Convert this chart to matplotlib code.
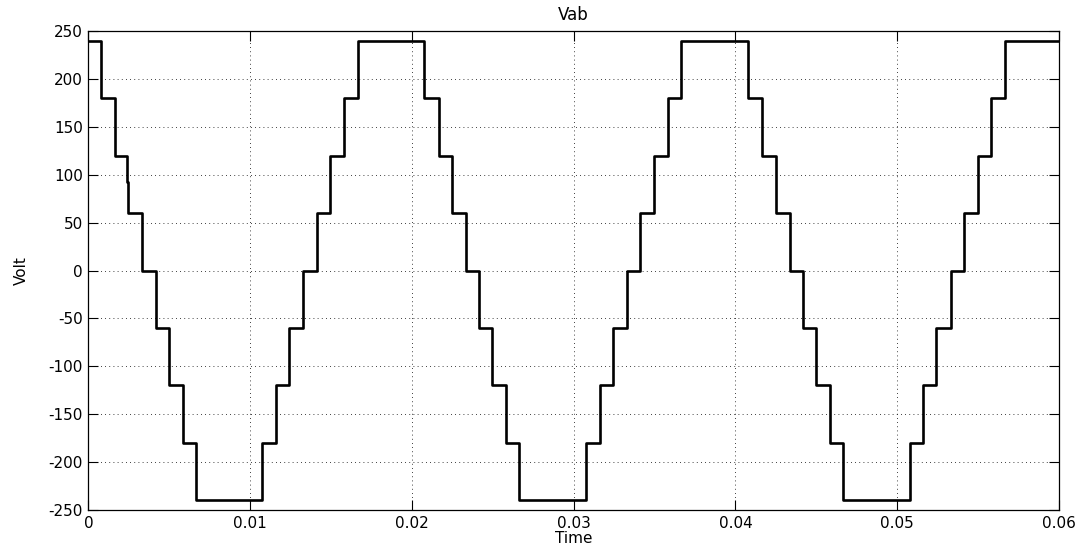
import matplotlib
matplotlib.use("Agg")
import matplotlib.pyplot as plt
import numpy as np

# Transition times (s) and the voltage level held from each time onward
switch_times = [0.0, 0.00078, 0.00165, 0.00238, 0.00247, 0.00334, 0.00417, 0.00499, 0.00584, 0.00664,
                0.01076, 0.01161, 0.01241, 0.01326, 0.01412, 0.01495, 0.01581, 0.01666,
                0.02078, 0.02165, 0.02249, 0.02336, 0.02416, 0.02498, 0.02583, 0.02665,
                0.03078, 0.03160, 0.03243, 0.03330, 0.03412, 0.03498, 0.03583, 0.03666,
                0.04078, 0.04165, 0.04249, 0.04336, 0.04416, 0.04498, 0.04583, 0.04665,
                0.05078, 0.05160, 0.05243, 0.05330, 0.05412, 0.05498, 0.05583, 0.05666,
                0.06]
vab_levels = [240, 180, 120, 92, 60, 0, -60, -120, -180, -240,
              -180, -120, -60, 0, 60, 120, 180, 240,
              180, 120, 60, 0, -60, -120, -180, -240,
              -180, -120, -60, 0, 60, 120, 180, 240,
              180, 120, 60, 0, -60, -120, -180, -240,
              -180, -120, -60, 0, 60, 120, 180, 240,
              240]

x_ticks = [0, 0.01, 0.02, 0.03, 0.04, 0.05, 0.06]
x_tick_labels = ["0", "0.01", "0.02", "0.03", "0.04", "0.05", "0.06"]
y_ticks = [-250, -200, -150, -100, -50, 0, 50, 100, 150, 200, 250]

plt.rcParams['font.family'] = ['DejaVu Sans']
plt.rcParams['axes.unicode_minus'] = False

fig = plt.figure(figsize=(10.88, 5.50), dpi=100)
ax = fig.add_axes([0.0812, 0.0727, 0.9733 - 0.0812, 0.9435 - 0.0727])

ax.step(switch_times, vab_levels, where='post', color='black', linewidth=1.9)

ax.set_xlim(0, 0.06)
ax.set_ylim(-250, 250)
ax.set_xticks(x_ticks)
ax.set_xticklabels(x_tick_labels)
ax.set_yticks(y_ticks)

ax.grid(True, color='black', linestyle=(0, (1, 4)), linewidth=0.6)
ax.tick_params(direction='in', length=7.5, width=0.8, top=True, right=True,
               labelsize=11, colors='black', pad=4)
for s in ax.spines.values():
    s.set_linewidth(0.9)
    s.set_color('black')

ax.set_title("Vab", fontsize=12, pad=8)
ax.set_xlabel("Time", fontsize=11, labelpad=0)
ax.set_ylabel("Volt", fontsize=11, labelpad=14)

fig.savefig("out.png", dpi=100)
